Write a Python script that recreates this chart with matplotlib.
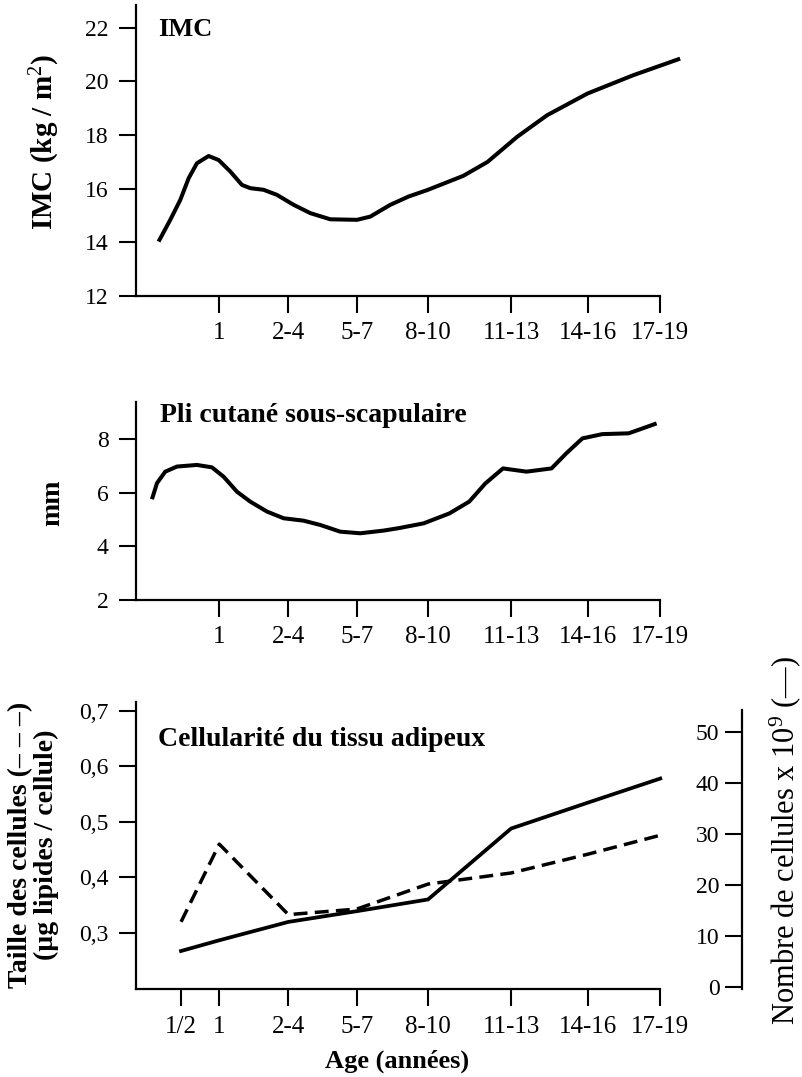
import matplotlib
matplotlib.use('Agg')
import matplotlib.pyplot as plt

plt.rcParams['font.family'] = ['Liberation Serif', 'DejaVu Serif']
plt.rcParams['mathtext.fontset'] = 'custom'
plt.rcParams['mathtext.rm'] = 'Liberation Serif'
plt.rcParams['mathtext.it'] = 'Liberation Serif:italic'
plt.rcParams['mathtext.bf'] = 'Liberation Serif:bold'

# ---------------- data ----------------
age_labels = ['1', '2-4', '5-7', '8-10', '11-13', '14-16', '17-19']
age_pos = [0.0, 0.94, 1.87, 2.84, 3.97, 5.02, 6.0]
cell_labels = ['1/2'] + age_labels
cell_pos = [-0.52] + age_pos

imc_x = [-0.826, -0.667, -0.531, -0.417, -0.304, -0.145, -0.009, 0.15, 0.309,
         0.422, 0.603, 0.785, 1.011, 1.238, 1.51, 1.873, 2.054, 2.327, 2.576,
         2.83, 3.32, 3.65, 4.05, 4.46, 5.01, 5.63, 6.27]
imc_y = [14.03, 14.84, 15.58, 16.39, 16.95, 17.22, 17.07, 16.64, 16.14,
         16.02, 15.96, 15.77, 15.40, 15.09, 14.86, 14.84, 14.96, 15.40, 15.71,
         15.95, 16.48, 17.0, 17.93, 18.74, 19.55, 20.23, 20.85]
imc_ticks = [12, 14, 16, 18, 20, 22]

pli_x = [-0.916, -0.848, -0.735, -0.576, -0.304, -0.1, 0.059, 0.241, 0.422,
         0.649, 0.875, 1.147, 1.374, 1.646, 1.918, 2.235, 2.439, 2.78, 3.13,
         3.40, 3.62, 3.86, 4.18, 4.52, 4.72, 4.94, 5.21, 5.57, 5.95]
pli_y = [5.76, 6.36, 6.79, 6.98, 7.04, 6.95, 6.60, 6.04, 5.67,
         5.30, 5.05, 4.96, 4.80, 4.55, 4.49, 4.59, 4.68, 4.86, 5.23,
         5.67, 6.35, 6.91, 6.79, 6.91, 7.47, 8.03, 8.19, 8.22, 8.59]
pli_ticks = [2, 4, 6, 8]

cell_size = [0.32, 0.46, 0.333, 0.343, 0.388, 0.408, 0.442, 0.476]
cell_count = [7.0, 9.1, 12.7, 14.8, 17.1, 31.0, 36.1, 40.8]
size_ticks = [0.3, 0.4, 0.5, 0.6, 0.7]
size_tick_labels = ['0,3', '0,4', '0,5', '0,6', '0,7']
count_ticks = [0, 10, 20, 30, 40, 50]

# ---------------- layout ----------------
W, H = 802, 1077
fig = plt.figure(figsize=(W / 100, H / 100), dpi=100)
fig.patch.set_facecolor('white')

XL = -1.14
PXU = 73.5          # pixels per x unit
X0 = 135.5          # pixel of the y spine


def px_axes(right_u, top, bottom):
    right = X0 + (right_u - XL) * PXU
    return fig.add_axes([X0 / W, 1 - bottom / H, (right - X0) / W, (bottom - top) / H])


def ftext(x, y, s, **kw):
    return fig.text(x / W, 1 - y / H, s, **kw)


LW_SP = 1.6
YTS = 17   # y tick label size
XTS = 18   # x tick label size


def style(ax):
    for s in ['top', 'right']:
        ax.spines[s].set_visible(False)
    for s in ['left', 'bottom']:
        ax.spines[s].set_linewidth(LW_SP)
    ax.tick_params(axis='both', direction='out', length=12.5, width=1.5,
                   colors='black')
    ax.tick_params(axis='y', pad=7, labelsize=YTS)
    ax.tick_params(axis='x', pad=6, labelsize=XTS)
    ax.set_facecolor('none')


# ---- top panel: IMC ----
ax1 = px_axes(6.4, 5, 296)
style(ax1)
ax1.plot(imc_x, imc_y, color='black', lw=2.9, solid_joinstyle='round',
         solid_capstyle='butt')
ax1.set_xlim(XL, 6.4)
ax1.set_ylim(12, 22.85)
ax1.set_yticks(imc_ticks)
ax1.set_xticks(age_pos)
ax1.set_xticklabels(age_labels)
ax1.spines['bottom'].set_bounds(XL, age_pos[-1])

# ---- middle panel: skinfold ----
ax2 = px_axes(6.4, 401.7, 600)
style(ax2)
ax2.plot(pli_x, pli_y, color='black', lw=2.9, solid_joinstyle='round',
         solid_capstyle='butt')
ax2.set_xlim(XL, 6.4)
ax2.set_ylim(2, 9.40)
ax2.set_yticks(pli_ticks)
ax2.set_xticks(age_pos)
ax2.set_xticklabels(age_labels)
ax2.spines['bottom'].set_bounds(XL, age_pos[-1])

# ---- bottom panel: adipose cellularity ----
XR3 = 7.108
ax3 = px_axes(XR3, 702, 989)
style(ax3)
ax3.plot(cell_pos, cell_size, color='black', lw=2.5, dashes=(4, 2.1),
         dash_capstyle='butt')
ax3.set_xlim(XL, XR3)
ax3.set_ylim(0.199, 0.716)
ax3.set_yticks(size_ticks)
ax3.set_yticklabels(size_tick_labels)
ax3.set_xticks(cell_pos)
ax3.set_xticklabels(cell_labels)
ax3.spines['bottom'].set_bounds(XL, cell_pos[-1])
ax3.tick_params(axis='x', pad=7)

ax4 = ax3.twinx()
ax4.set_facecolor('none')
for s in ['top', 'bottom', 'right']:
    ax4.spines[s].set_visible(False)
ax4.spines['left'].set_visible(True)
ax4.spines['left'].set_position(('axes', 1.0))
ax4.spines['left'].set_linewidth(LW_SP)
ax4.yaxis.tick_left()
ax4.plot(cell_pos, cell_count, color='black', lw=2.7, solid_joinstyle='miter')
ax4.set_ylim(-0.45, 55.8)
ax4.set_yticks(count_ticks)
ax4.spines['left'].set_bounds(-0.45, 54.25)
ax4.tick_params(axis='y', direction='out', length=12, width=1.5, labelsize=YTS, pad=4)

# ---------------- texts ----------------
ftext(158, 36, 'IMC', fontsize=19, fontweight='bold', ha='left', va='baseline')
ftext(160, 422, 'Pli cutané sous-scapulaire', fontsize=20, fontweight='bold',
      ha='left', va='baseline')
ftext(158, 746, 'Cellularité du tissu adipeux', fontsize=20, fontweight='bold',
      ha='left', va='baseline')

ftext(53, 142, 'IMC (kg / m$^{2}$)', fontsize=21, fontweight='bold', rotation=90,
      rotation_mode='anchor', ha='center', va='baseline')
ftext(59, 503, 'mm', fontsize=20, fontweight='bold', rotation=90,
      rotation_mode='anchor', ha='center', va='baseline')
ftext(33.5, 845, 'Taille des cellules (– – –)\n(µg lipides / cellule)',
      fontsize=20, fontweight='bold', rotation=90, rotation_mode='anchor',
      ha='center', va='center', multialignment='center', linespacing=1.08)
ftext(794, 841, 'Nombre de cellules x 10$^{9}$ (—)', fontsize=22,
      rotation=90, rotation_mode='anchor', ha='center', va='baseline')
ftext(397, 1068, 'Age (années)', fontsize=19, fontweight='bold',
      ha='center', va='baseline')

fig.savefig('out.png', dpi=100, facecolor='white')
